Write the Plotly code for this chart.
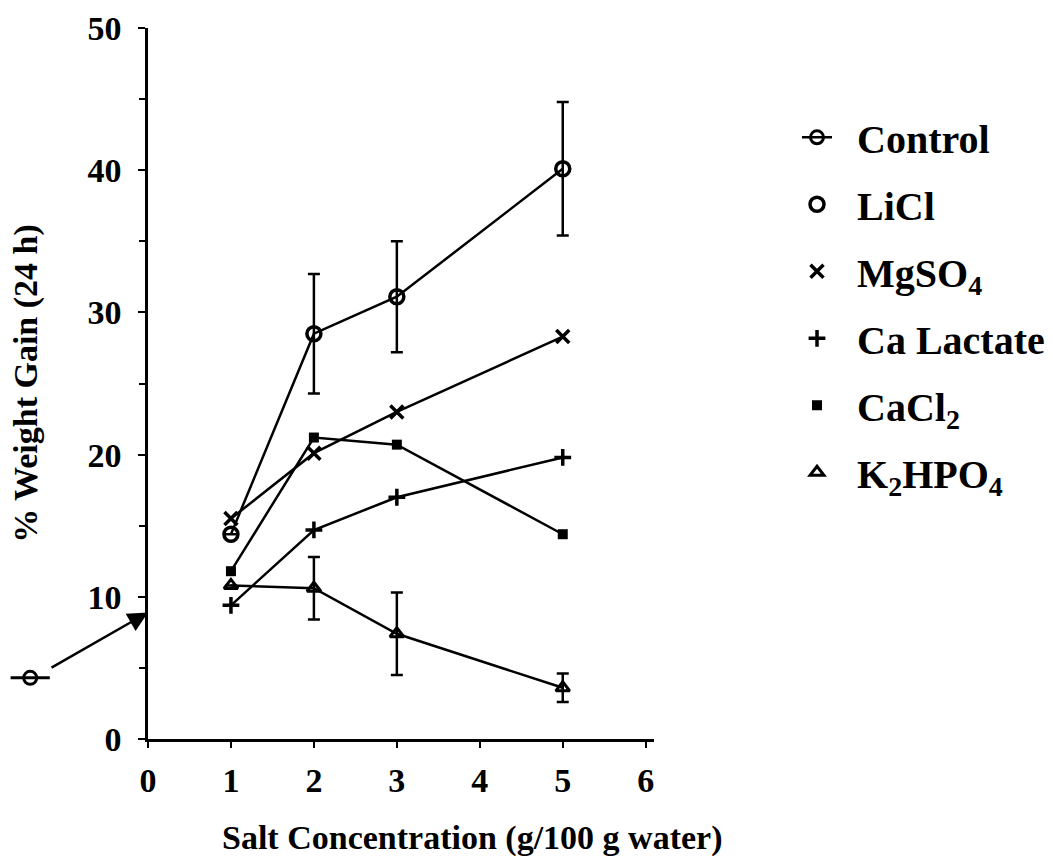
import plotly.graph_objects as go

# Salt concentration (g/100 g water)
conc = [1, 2, 3, 5]

# % weight gain after 24 h for each salt
licl = [14.4, 28.5, 31.1, 40.1]
licl_err = [0, 4.2, 3.9, 4.7]
mgso4 = [15.5, 20.1, 23.0, 28.3]
ca_lactate = [9.4, 14.7, 17.0, 19.8]
cacl2 = [11.8, 21.2, 20.7, 14.4]
k2hpo4 = [10.8, 10.6, 7.4, 3.6]
k2hpo4_err = [0, 2.2, 2.9, 1.0]

# Control (no salt)
control_conc = 0
control_gain = 8.9

x_ticks = [0, 1, 2, 3, 4, 5, 6]
y_ticks = [0, 10, 20, 30, 40, 50]

FONT = "Liberation Serif"
LW = 2.5
BLACK = "black"
NBSP = "\u00a0\u00a0"

# Geometry: the main axes start at 148 px; a narrow blank axis to the left
# (same units per pixel) carries the control key symbol.
W, H = 1053, 863
ML, MR, MT, MB = 10, 399, 28, 124
X_MAX = 6.1
axis_left_px = 148
plot_w = W - ML - MR
plot_h = H - MT - MB
split = (axis_left_px - ML) / plot_w
units_per_px = X_MAX / (W - MR - axis_left_px)
left_min = -(axis_left_px - ML) * units_per_px

fig = go.Figure()


def add_series(x, y, name, marker, err=None):
    # connecting line (no key entry) + markers that appear in the key
    fig.add_trace(go.Scatter(
        x=x, y=y, mode="lines", line=dict(color=BLACK, width=LW),
        showlegend=False, hoverinfo="skip",
    ))
    kw = {}
    if err is not None:
        kw["error_y"] = dict(type="data", array=err, color=BLACK, thickness=LW, width=6)
    fig.add_trace(go.Scatter(
        x=x, y=y, name=NBSP + name, mode="markers", marker=marker, cliponaxis=False, **kw,
    ))


# Control key symbol placed left of the axis, with an arrow to the control value
glyph_x, glyph_y = control_conc - 1.42, control_gain - 4.6
fig.add_trace(go.Scatter(
    x=[glyph_x], y=[glyph_y], xaxis="x2", yaxis="y", name=NBSP + "Control",
    mode="lines+markers", cliponaxis=False,
    line=dict(color=BLACK, width=LW),
    marker=dict(symbol="circle-open", size=13, color=BLACK, line=dict(width=3)),
))
fig.add_trace(go.Scatter(
    x=[glyph_x], y=[glyph_y], xaxis="x2", yaxis="y", showlegend=False,
    mode="markers", cliponaxis=False,
    marker=dict(symbol="line-ew-open", size=28, color=BLACK, line=dict(width=3)),
))

add_series(conc, licl, "LiCl",
           dict(symbol="circle-open", size=14, color=BLACK, line=dict(width=3.5)), licl_err)
add_series(conc, mgso4, "MgSO<sub>4</sub>",
           dict(symbol="x-thin-open", size=13, color=BLACK, line=dict(width=3.5)))
add_series(conc, ca_lactate, "Ca Lactate",
           dict(symbol="cross-thin-open", size=12, color=BLACK, line=dict(width=3.5)))
add_series(conc, cacl2, "CaCl<sub>2</sub>",
           dict(symbol="square", size=10, color=BLACK))
add_series(conc, k2hpo4, "K<sub>2</sub>HPO<sub>4</sub>",
           dict(symbol="triangle-up-open", size=12, color=BLACK, line=dict(width=3)), k2hpo4_err)

fig.add_annotation(
    x=control_conc, y=control_gain, xref="x", yref="y",
    ax=-98, ay=56, text="", showarrow=True, arrowhead=2, arrowsize=1.6,
    arrowwidth=2.5, arrowcolor=BLACK,
)

tick_font = dict(family=FONT, size=34, color=BLACK, weight="bold")
title_font = dict(family=FONT, size=34, color=BLACK, weight="bold")

# x-axis title, centred under the axis text block
fig.add_annotation(
    text="Salt Concentration (g/100 g water)", xref="paper", yref="paper",
    x=(472 - ML) / plot_w, y=-(838 - (H - MB)) / plot_h,
    xanchor="center", yanchor="middle", showarrow=False, font=title_font,
)

fig.update_layout(
    width=W, height=H,
    margin=dict(l=ML, r=MR, t=MT, b=MB, autoexpand=False),
    paper_bgcolor="white", plot_bgcolor="white",
    font=dict(family=FONT, color=BLACK),
    xaxis=dict(
        domain=[split, 1], range=[0, X_MAX], tickvals=x_ticks,
        ticktext=[str(v) for v in x_ticks], automargin=False,
        showgrid=False, zeroline=False, showline=True, linecolor=BLACK, linewidth=LW,
        ticks="outside", ticklen=6, tickwidth=2, tickcolor=BLACK,
        tickfont=tick_font, ticklabelstandoff=3,
    ),
    xaxis2=dict(
        domain=[0, split], range=[left_min, 0], anchor="y", automargin=False,
        visible=False, showgrid=False, zeroline=False,
    ),
    yaxis=dict(
        range=[0, 50], tickvals=y_ticks, ticktext=[str(v) for v in y_ticks],
        anchor="x", automargin=False,
        showgrid=False, zeroline=False, showline=True, linecolor=BLACK, linewidth=LW,
        ticks="outside", ticklen=7, tickwidth=2, tickcolor=BLACK,
        minor=dict(dtick=5, ticks="outside", ticklen=6, tickwidth=2, tickcolor=BLACK, showgrid=False),
        tickfont=tick_font, ticklabelstandoff=10,
        title=dict(text="% Weight Gain (24 h)", font=title_font, standoff=40),
    ),
    legend=dict(
        x=(797 - ML) / plot_w, y=0.892,
        xanchor="left", yanchor="top",
        font=dict(family=FONT, size=40, color=BLACK, weight="bold"),
        itemwidth=30, tracegroupgap=12, bgcolor="rgba(0,0,0,0)",
        traceorder="grouped",
    ),
    showlegend=True,
)

for i, tr in enumerate(fig.data):
    tr.legendgroup = f"g{i}"

fig.write_html("out.html")
